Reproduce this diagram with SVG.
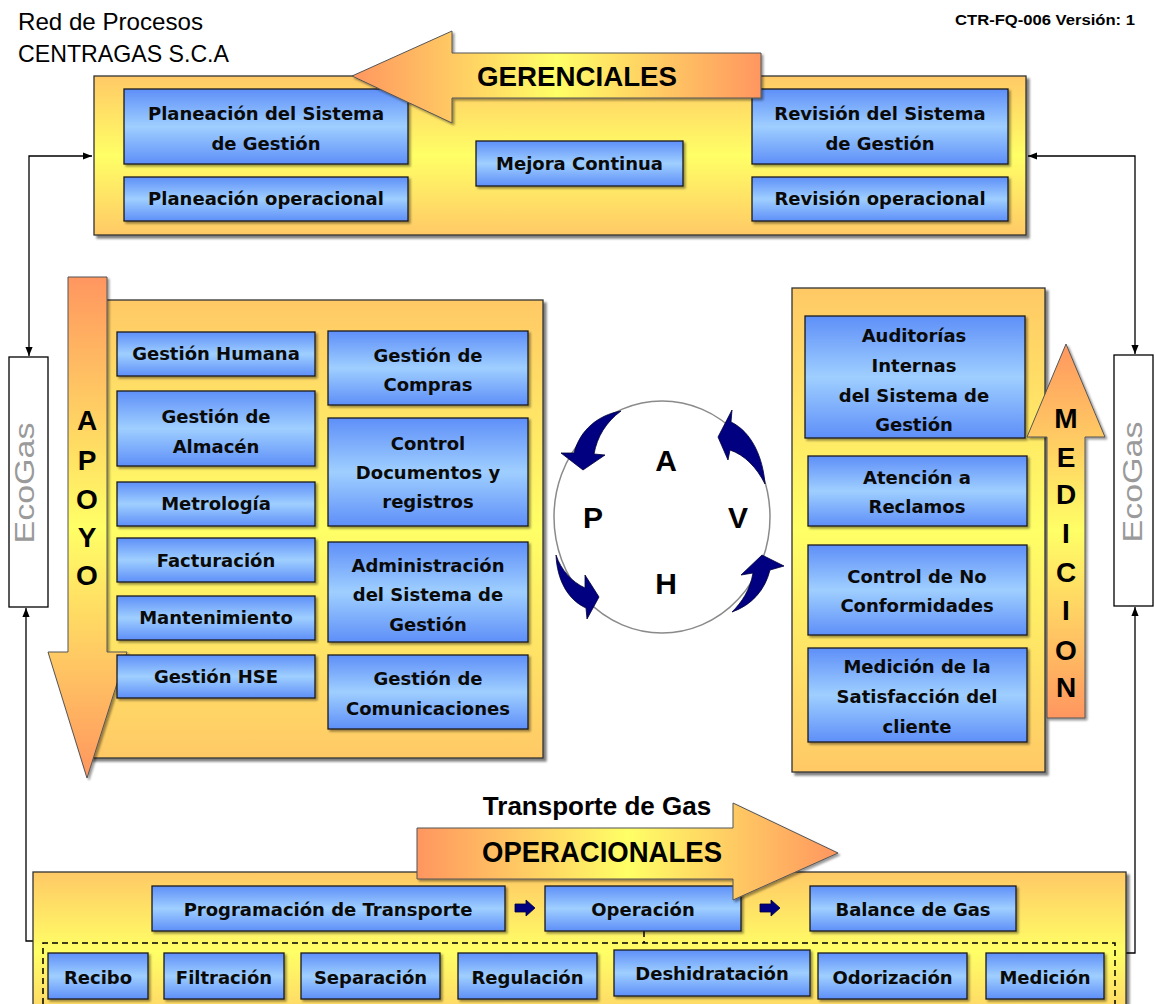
<svg xmlns="http://www.w3.org/2000/svg" width="1155" height="1004" viewBox="0 0 1155 1004">
<defs>
<linearGradient id="gCont" x1="0" y1="0" x2="0" y2="1"><stop offset="0" stop-color="#FFC966"/><stop offset="0.5" stop-color="#FFFF66"/><stop offset="1" stop-color="#FFC966"/></linearGradient>
<linearGradient id="gBox" x1="0" y1="0" x2="0" y2="1"><stop offset="0" stop-color="#5E8FF8"/><stop offset="0.5" stop-color="#9FCFFF"/><stop offset="1" stop-color="#5E8FF8"/></linearGradient>
<linearGradient id="gArrH" x1="0" y1="0" x2="1" y2="0"><stop offset="0" stop-color="#FF9660"/><stop offset="0.5" stop-color="#FFFF66"/><stop offset="1" stop-color="#FF9660"/></linearGradient>
<linearGradient id="gArrV" x1="0" y1="0" x2="0" y2="1"><stop offset="0" stop-color="#FF9660"/><stop offset="0.5" stop-color="#FFFF66"/><stop offset="1" stop-color="#FF9660"/></linearGradient>
<filter id="sh" x="-5%" y="-5%" width="115%" height="115%"><feDropShadow dx="3" dy="3" stdDeviation="1" flood-color="#000" flood-opacity="0.5"/></filter>
<filter id="sh2" x="-5%" y="-5%" width="115%" height="125%"><feDropShadow dx="2" dy="2" stdDeviation="0.8" flood-color="#000" flood-opacity="0.4"/></filter>
<marker id="ah" viewBox="0 0 10 10" refX="10" refY="5" markerWidth="9" markerHeight="9" markerUnits="userSpaceOnUse" orient="auto-start-reverse"><path d="M0,1 L10,5 L0,9 Z" fill="#000"/></marker>
<style>
.cont{fill:url(#gCont);stroke:#333;stroke-width:1.3;filter:url(#sh)}
.box{fill:url(#gBox);stroke:#1a1a1a;stroke-width:1.3;filter:url(#sh2)}
.bt{font-family:"DejaVu Sans",Verdana,sans-serif;font-weight:bold;font-size:18px;fill:#0a0a0a;text-anchor:middle}
.big{font-family:"Liberation Sans",Arial,sans-serif;font-weight:bold;fill:#000;text-anchor:middle}
.arH{fill:url(#gArrH);stroke:#555;stroke-width:1;filter:url(#sh2)}
.arV{fill:url(#gArrV);stroke:#555;stroke-width:1;filter:url(#sh2)}
.conn{fill:none;stroke:#000;stroke-width:1.3}
.dash{fill:none;stroke:#000;stroke-width:1.5;stroke-dasharray:6 4}
.eco{fill:#fff;stroke:#000;stroke-width:1.3}
.ecot{font-family:"Liberation Sans",Arial,sans-serif;font-size:27px;fill:#9a9a9a;text-anchor:middle}
.cyc{fill:#000080;stroke:#00003a;stroke-width:0.8}
.head{font-family:"Liberation Sans",Arial,sans-serif;fill:#000}
</style>
</defs>
<rect width="1155" height="1004" fill="#fff"/>

<g id="header">
<text class="head" x="18" y="30" font-size="24" textLength="185" lengthAdjust="spacingAndGlyphs">Red de Procesos</text>
<text class="head" x="18" y="62" font-size="24" textLength="211" lengthAdjust="spacingAndGlyphs">CENTRAGAS S.C.A</text>
<text class="head" x="955" y="25" font-size="14" font-weight="bold" textLength="180" lengthAdjust="spacingAndGlyphs">CTR-FQ-006  Versión: 1</text>
</g>

<g id="connectors">
<path class="conn" d="M29 356 L29 156 L92 156" marker-start="url(#ah)" marker-end="url(#ah)"/>
<path class="conn" d="M26 608 L26 941 L53 941" marker-start="url(#ah)" marker-end="url(#ah)"/>
<path class="conn" d="M1135 354 L1135 156 L1028 156" marker-start="url(#ah)" marker-end="url(#ah)"/>
<path class="conn" d="M1135 607 L1135 953 L1107 953" marker-start="url(#ah)" marker-end="url(#ah)"/>
</g>

<g id="ecogas-left">
<rect class="eco" x="9" y="357" width="39" height="250"/>
<text class="ecot" transform="translate(34,483) rotate(-90)" textLength="121" lengthAdjust="spacingAndGlyphs">EcoGas</text>
</g>
<g id="ecogas-right">
<rect class="eco" x="1114" y="355" width="39" height="251"/>
<text class="ecot" transform="translate(1142,482) rotate(-90)" textLength="121" lengthAdjust="spacingAndGlyphs">EcoGas</text>
</g>

<g id="gerenciales">
<rect class="cont" x="94" y="76" width="932" height="159"/>
<g id="planeacion-sistema"><rect class="box" x="124" y="89" width="284" height="75"/>
<text class="bt" x="266" y="120">Planeación del Sistema</text><text class="bt" x="266" y="150">de Gestión</text></g>
<g id="planeacion-operacional"><rect class="box" x="124" y="177" width="284" height="44"/>
<text class="bt" x="266" y="205">Planeación operacional</text></g>
<g id="mejora-continua"><rect class="box" x="476" y="141" width="207" height="45"/>
<text class="bt" x="579.5" y="170">Mejora Continua</text></g>
<g id="revision-sistema"><rect class="box" x="752" y="89" width="256" height="75"/>
<text class="bt" x="880" y="120">Revisión del Sistema</text><text class="bt" x="880" y="150">de Gestión</text></g>
<g id="revision-operacional"><rect class="box" x="752" y="177" width="256" height="44"/>
<text class="bt" x="880" y="205">Revisión operacional</text></g>
<g id="arrow-gerenciales"><path class="arH" d="M352 76 L452 31 L452 53 L761 53 L761 98 L452 98 L452 123 Z"/>
<text class="big" x="577" y="86" font-size="28" textLength="200" lengthAdjust="spacingAndGlyphs">GERENCIALES</text></g>
</g>

<g id="apoyo">
<rect class="cont" x="90" y="300" width="453" height="458"/>
<g id="arrow-apoyo"><path class="arV" d="M68 277 L107 277 L107 652 L127 652 L87 778 L48 652 L68 652 Z"/>
<g class="big" font-size="28"><text x="87" y="430">A</text><text x="87" y="470">P</text><text x="87" y="509">O</text><text x="87" y="547">Y</text><text x="87" y="585">O</text></g></g>
<g id="gestion-humana"><rect class="box" x="117" y="332" width="198" height="44"/><text class="bt" x="216" y="360">Gestión Humana</text></g>
<g id="gestion-almacen"><rect class="box" x="117" y="391" width="198" height="75"/><text class="bt" x="216" y="423">Gestión de</text><text class="bt" x="216" y="453">Almacén</text></g>
<g id="metrologia"><rect class="box" x="117" y="482" width="198" height="44"/><text class="bt" x="216" y="510">Metrología</text></g>
<g id="facturacion"><rect class="box" x="117" y="538" width="198" height="44"/><text class="bt" x="216" y="567">Facturación</text></g>
<g id="mantenimiento"><rect class="box" x="117" y="596" width="198" height="44"/><text class="bt" x="216" y="624">Mantenimiento</text></g>
<g id="gestion-hse"><rect class="box" x="117" y="655" width="198" height="43"/><text class="bt" x="216" y="683">Gestión HSE</text></g>
<g id="gestion-compras"><rect class="box" x="328" y="331" width="200" height="74"/><text class="bt" x="428" y="362">Gestión de</text><text class="bt" x="428" y="391">Compras</text></g>
<g id="control-documentos"><rect class="box" x="328" y="418" width="200" height="108"/><text class="bt" x="428" y="450">Control</text><text class="bt" x="428" y="479">Documentos y</text><text class="bt" x="428" y="508">registros</text></g>
<g id="administracion"><rect class="box" x="328" y="542" width="200" height="100"/><text class="bt" x="428" y="572">Administración</text><text class="bt" x="428" y="601">del Sistema de</text><text class="bt" x="428" y="631">Gestión</text></g>
<g id="gestion-comunicaciones"><rect class="box" x="328" y="655" width="200" height="74"/><text class="bt" x="428" y="685">Gestión de</text><text class="bt" x="428" y="715">Comunicaciones</text></g>
</g>

<g id="phva">
<ellipse cx="662" cy="517" rx="108" ry="116" fill="#fff" stroke="#8a8a8a" stroke-width="1.5"/>
<g class="big" font-size="30"><text x="666" y="471">A</text><text x="593" y="528">P</text><text x="738" y="528">V</text><text x="666" y="594">H</text></g>
<path class="cyc" d="M621 411 C598 415 580 430 574 453 L561 453 L583 470 L605 455 L594 454 C597 437 606 422 621 411 Z"/>
<path class="cyc" d="M732 410 L718 437 L728 460 L730 450 C745 455 757 468 765 484 C763 458 752 432 731 422 Z"/>
<path class="cyc" d="M556 555 C557 580 568 600 586 608 L587 619 L599 597 L585 575 L585 588 C572 582 561 570 556 555 Z"/>
<path class="cyc" d="M732 612 C752 605 765 590 770 570 L784 566 L762 555 L741 575 L753 573 C750 590 742 602 732 612 Z"/>
</g>

<g id="medicion">
<rect class="cont" x="792" y="288" width="253" height="484"/>
<g id="auditorias"><rect class="box" x="805" y="316" width="220" height="122"/><text class="bt" x="914" y="342">Auditorías</text><text class="bt" x="914" y="372">Internas</text><text class="bt" x="914" y="402">del Sistema de</text><text class="bt" x="914" y="431">Gestión</text></g>
<g id="atencion-reclamos"><rect class="box" x="808" y="456" width="219" height="70"/><text class="bt" x="917" y="484">Atención a</text><text class="bt" x="917" y="513">Reclamos</text></g>
<g id="control-no-conformidades"><rect class="box" x="808" y="545" width="219" height="90"/><text class="bt" x="917" y="583">Control de No</text><text class="bt" x="917" y="612">Conformidades</text></g>
<g id="satisfaccion"><rect class="box" x="808" y="648" width="219" height="94"/><text class="bt" x="917" y="673">Medición de la</text><text class="bt" x="917" y="703">Satisfacción del</text><text class="bt" x="917" y="733">cliente</text></g>
<g id="arrow-medicion"><path class="arV" d="M1066 344 L1105 437 L1085 437 L1085 718 L1047 718 L1047 437 L1027 437 Z"/>
<g class="big" font-size="28"><text x="1066" y="428">M</text><text x="1066" y="467">E</text><text x="1066" y="504">D</text><text x="1066" y="543">I</text><text x="1066" y="582">C</text><text x="1066" y="620">I</text><text x="1066" y="660">O</text><text x="1066" y="697">N</text></g></g>
</g>

<g id="operacionales">
<rect class="cont" x="33" y="872" width="1093" height="160"/>
<path class="dash" d="M43 1004 L43 943 L1115 943 L1115 1004"/>
<path class="dash" d="M644 931 L644 943"/>
<g id="programacion"><rect class="box" x="152" y="886" width="353" height="45"/><text class="bt" x="328" y="916">Programación de Transporte</text></g>
<g id="operacion"><rect class="box" x="545" y="886" width="196" height="45"/><text class="bt" x="643" y="916">Operación</text></g>
<g id="balance"><rect class="box" x="810" y="886" width="206" height="45"/><text class="bt" x="913" y="916">Balance de Gas</text></g>
<path class="cyc" d="M515 904 L526 904 L526 900 L535 908 L526 916 L526 912 L515 912 Z"/>
<path class="cyc" d="M760 904 L771 904 L771 900 L780 908 L771 916 L771 912 L760 912 Z"/>
<g id="recibo"><rect class="box" x="48" y="953" width="100" height="46"/><text class="bt" x="98" y="984">Recibo</text></g>
<g id="filtracion"><rect class="box" x="164" y="953" width="120" height="46"/><text class="bt" x="224" y="984">Filtración</text></g>
<g id="separacion"><rect class="box" x="301" y="953" width="139" height="46"/><text class="bt" x="370.5" y="984">Separación</text></g>
<g id="regulacion"><rect class="box" x="458" y="953" width="139" height="46"/><text class="bt" x="527.5" y="984">Regulación</text></g>
<g id="deshidratacion"><rect class="box" x="614" y="950" width="196" height="46"/><text class="bt" x="712" y="980">Deshidratación</text></g>
<g id="odorizacion"><rect class="box" x="818" y="953" width="149" height="46"/><text class="bt" x="892.5" y="984">Odorización</text></g>
<g id="medicion-op"><rect class="box" x="986" y="953" width="118" height="46"/><text class="bt" x="1045" y="984">Medición</text></g>
<g id="arrow-operacionales"><path class="arH" d="M417 828 L733 828 L733 803 L838 853 L733 900 L733 879 L417 879 Z"/>
<text class="big" x="602" y="862" font-size="29" textLength="240" lengthAdjust="spacingAndGlyphs">OPERACIONALES</text></g>
<text class="big" x="597" y="815" font-size="26">Transporte de Gas</text>
</g>
</svg>
